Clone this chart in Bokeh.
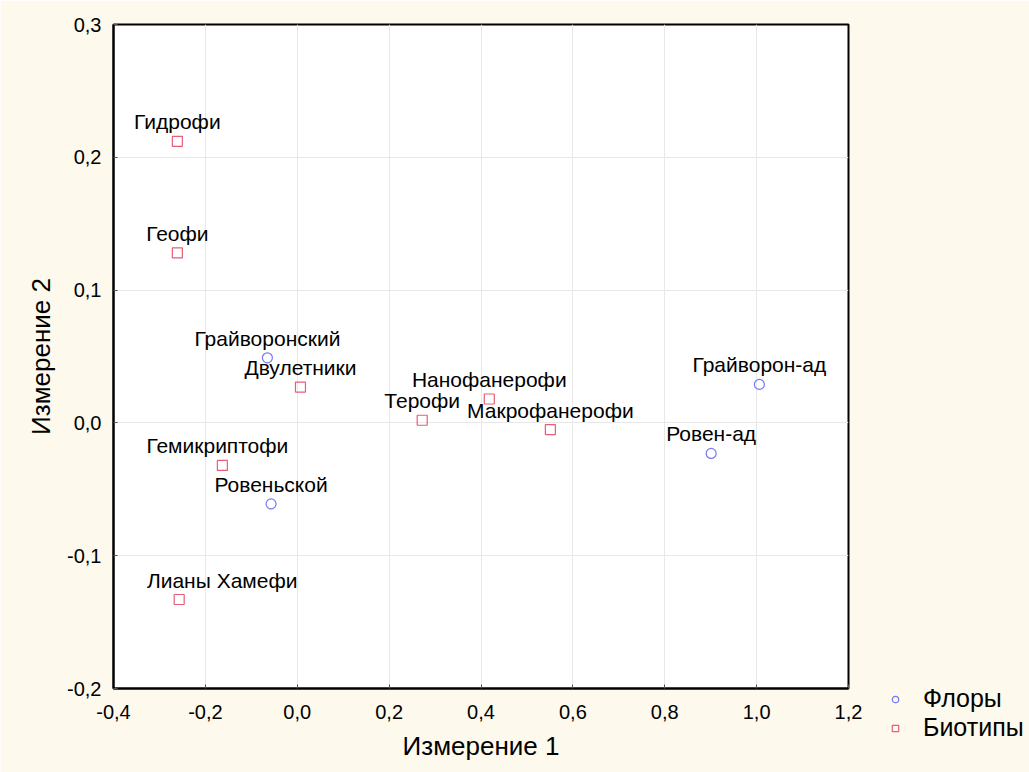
from bokeh.plotting import figure
from bokeh.models import ColumnDataSource, FixedTicker, Legend, LegendItem, Range1d
from bokeh.core.properties import value
from bokeh.embed import file_html
from bokeh.resources import INLINE

# ---- data ----
flory_names = ["Грайворонский", "Ровеньской", "Грайворон-ад", "Ровен-ад"]
flory_x = [-0.065, -0.057, 1.006, 0.901]
flory_y = [0.049, -0.061, 0.029, -0.023]

bio_names = ["Гидрофи", "Геофи", "Двулетники", "Гемикриптофи", "Лианы Хамефи",
             "Терофи", "Нанофанерофи", "Макрофанерофи"]
bio_x = [-0.261, -0.261, 0.007, -0.163, -0.257, 0.272, 0.418, 0.551]
bio_y = [0.212, 0.128, 0.027, -0.032, -0.133, 0.002, 0.018, -0.005]

x_ticks = [-0.4, -0.2, 0.0, 0.2, 0.4, 0.6, 0.8, 1.0, 1.2]
x_tick_labels = ["-0,4", "-0,2", "0,0", "0,2", "0,4", "0,6", "0,8", "1,0", "1,2"]
y_ticks = [-0.2, -0.1, 0.0, 0.1, 0.2, 0.3]
y_tick_labels = ["-0,2", "-0,1", "0,0", "0,1", "0,2", "0,3"]

# label horizontal shifts (style)
flory_dx = [0, 0, 0, 0]
bio_dx = [0, 0, 0, -5, 43, 0, 0, 0]

FONT = "Liberation Sans"
BG = "#FDF9EC"

p = figure(frame_width=735, frame_height=664, output_backend="svg", toolbar_location=None,
           x_range=Range1d(-0.4, 1.2), y_range=Range1d(-0.2, 0.3),
           min_border_left=113, min_border_right=181, min_border_top=24,
           min_border_bottom=84)
p.background_fill_color = "white"
p.border_fill_color = BG
p.outline_line_color = "black"
p.outline_line_width = 2

for ax, ticks, labels in ((p.xaxis[0], x_ticks, x_tick_labels), (p.yaxis[0], y_ticks, y_tick_labels)):
    ax.ticker = FixedTicker(ticks=ticks)
    ax.major_label_overrides = {t: l for t, l in zip(ticks, labels)}
    ax.major_label_text_font = FONT
    ax.major_label_text_font_size = "20px"
    ax.major_label_text_color = "black"
    ax.axis_line_color = "black"
    ax.axis_line_width = 2
    ax.major_tick_in = 4
    ax.major_tick_out = 0
    ax.major_tick_line_color = "#555555"
    ax.minor_tick_line_color = None
    ax.axis_label_text_font = FONT
    ax.axis_label_text_font_size = "26px"
    ax.axis_label_text_font_style = "normal"
    ax.axis_label_text_color = "black"

p.xaxis.axis_label = "Измерение 1"
p.yaxis.axis_label = "Измерение 2"
p.xaxis.major_label_standoff = 16
p.yaxis.major_label_standoff = 12
p.xaxis.axis_label_standoff = 9
p.yaxis.axis_label_standoff = 8

p.xgrid.ticker = FixedTicker(ticks=x_ticks)
p.ygrid.ticker = FixedTicker(ticks=y_ticks)
p.grid.grid_line_color = "#E8E8E8"
p.grid.grid_line_width = 1

fs = ColumnDataSource(dict(x=flory_x, y=flory_y, name=flory_names, dx=flory_dx))
bs = ColumnDataSource(dict(x=bio_x, y=bio_y, name=bio_names, dx=bio_dx))

r_f = p.scatter("x", "y", source=fs, marker="circle", size=10, fill_color=None,
                line_color="#7878F0", line_width=1.2)
r_b = p.scatter("x", "y", source=bs, marker="square", size=10, fill_color=None,
                line_color="#E65E7A", line_width=1.2)

for src in (fs, bs):
    p.text("x", "y", text="name", source=src, x_offset="dx", y_offset=-8,
           text_align="center", text_baseline="bottom",
           text_font=value(FONT), text_font_size="21px", text_color="black")

legend = Legend(items=[LegendItem(label="Флоры", renderers=[r_f]),
                       LegendItem(label="Биотипы", renderers=[r_b])],
                location=(39, -54))
legend.label_text_font = FONT
legend.label_text_font_size = "25px"
legend.label_text_color = "black"
legend.background_fill_alpha = 0
legend.border_line_color = None
legend.glyph_width = 16
legend.glyph_height = 16
legend.label_standoff = 20
legend.spacing = 0
legend.padding = 0
legend.margin = 0
p.add_layout(legend, "right")

open("out.html", "w").write(file_html(p, INLINE))
